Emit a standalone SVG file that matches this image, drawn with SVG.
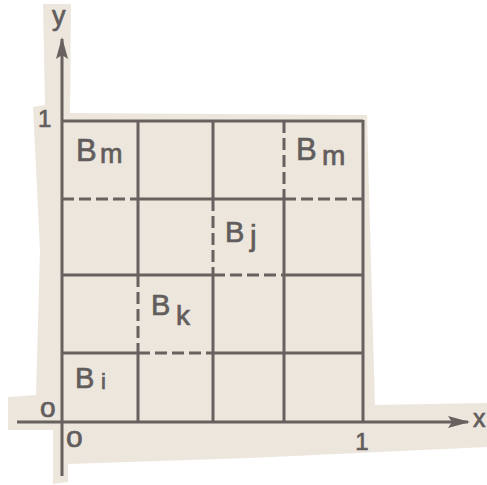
<svg xmlns="http://www.w3.org/2000/svg" width="487" height="485" viewBox="0 0 487 485">
<style>
.ln{stroke:#676160;stroke-width:3;fill:none;stroke-linecap:butt}
.ds{stroke-dasharray:12 5}
.t{font-family:"Liberation Sans","DejaVu Sans",sans-serif;fill:#625d5c;stroke:#625d5c;stroke-width:0.7}
</style>
<defs>
<marker id="ah" viewBox="0 0 22 12" refX="20" refY="6" markerWidth="22" markerHeight="12" markerUnits="userSpaceOnUse" orient="auto">
<path d="M0,0 L22,6 L0,12 L4,6 Z" fill="#676160"/>
</marker>
</defs>
<rect width="487" height="485" fill="#ffffff"/>
<polygon id="paper" fill="#ece6dd" points="43,4 71,4 70,113 367,115 372,300 375,405 487,403 487,447 250,458 68,464 68,482 53,484 53,430 8,430 8,397 36,395 40,250 33,107 45,105"/>
<g id="connectors">
<line class="ln" x1="62" y1="476" x2="62" y2="39" marker-end="url(#ah)"/>
<line class="ln" x1="17" y1="422" x2="468" y2="422" marker-end="url(#ah)"/>
<line class="ln" x1="62" y1="121" x2="363" y2="121"/>
<line class="ln" x1="363" y1="120" x2="363" y2="423"/>
<line class="ln" x1="138" y1="121" x2="138" y2="275"/>
<line class="ln ds" x1="138" y1="275" x2="138" y2="353"/>
<line class="ln" x1="138" y1="353" x2="138" y2="422"/>
<line class="ln" x1="213" y1="121" x2="213" y2="199"/>
<line class="ln ds" x1="213" y1="199" x2="213" y2="275"/>
<line class="ln" x1="213" y1="275" x2="213" y2="422"/>
<line class="ln ds" x1="284" y1="121" x2="284" y2="199"/>
<line class="ln" x1="284" y1="199" x2="284" y2="422"/>
<line class="ln ds" x1="62" y1="199" x2="138" y2="199"/>
<line class="ln" x1="138" y1="199" x2="284" y2="199"/>
<line class="ln ds" x1="284" y1="199" x2="363" y2="199"/>
<line class="ln" x1="62" y1="275" x2="213" y2="275"/>
<line class="ln ds" x1="213" y1="275" x2="284" y2="275"/>
<line class="ln" x1="284" y1="275" x2="363" y2="275"/>
<line class="ln" x1="62" y1="353" x2="138" y2="353"/>
<line class="ln ds" x1="138" y1="353" x2="213" y2="353"/>
<line class="ln" x1="213" y1="353" x2="363" y2="353"/>
</g>
<g id="label-y"><text class="t" x="52" y="25" font-size="27">y</text></g>
<g id="label-x"><text class="t" x="473" y="427" font-size="25">x</text></g>
<g id="tick-y1"><text class="t" x="38" y="127" font-size="24">1</text></g>
<g id="tick-x1"><text class="t" x="362" y="450" font-size="24" text-anchor="middle">1</text></g>
<g id="origin-y"><text class="t" x="40" y="417" font-size="28">o</text></g>
<g id="origin-x"><text class="t" x="66" y="447" font-size="30">o</text></g>
<g id="node-Bm-left"><text class="t" x="76" y="161" font-size="31">B<tspan x="100" y="163" font-size="27">m</tspan></text></g>
<g id="node-Bm-right"><text class="t" x="296" y="160" font-size="31">B<tspan x="322" y="165" font-size="28">m</tspan></text></g>
<g id="node-Bj"><text class="t" x="225" y="242" font-size="29">B<tspan x="250" y="246" font-size="30">j</tspan></text></g>
<g id="node-Bk"><text class="t" x="151" y="315" font-size="29">B<tspan x="176" y="325" font-size="28">k</tspan></text></g>
<g id="node-Bi"><text class="t" x="75" y="388" font-size="29">B<tspan x="101" y="389" font-size="22">i</tspan></text></g>
</svg>
